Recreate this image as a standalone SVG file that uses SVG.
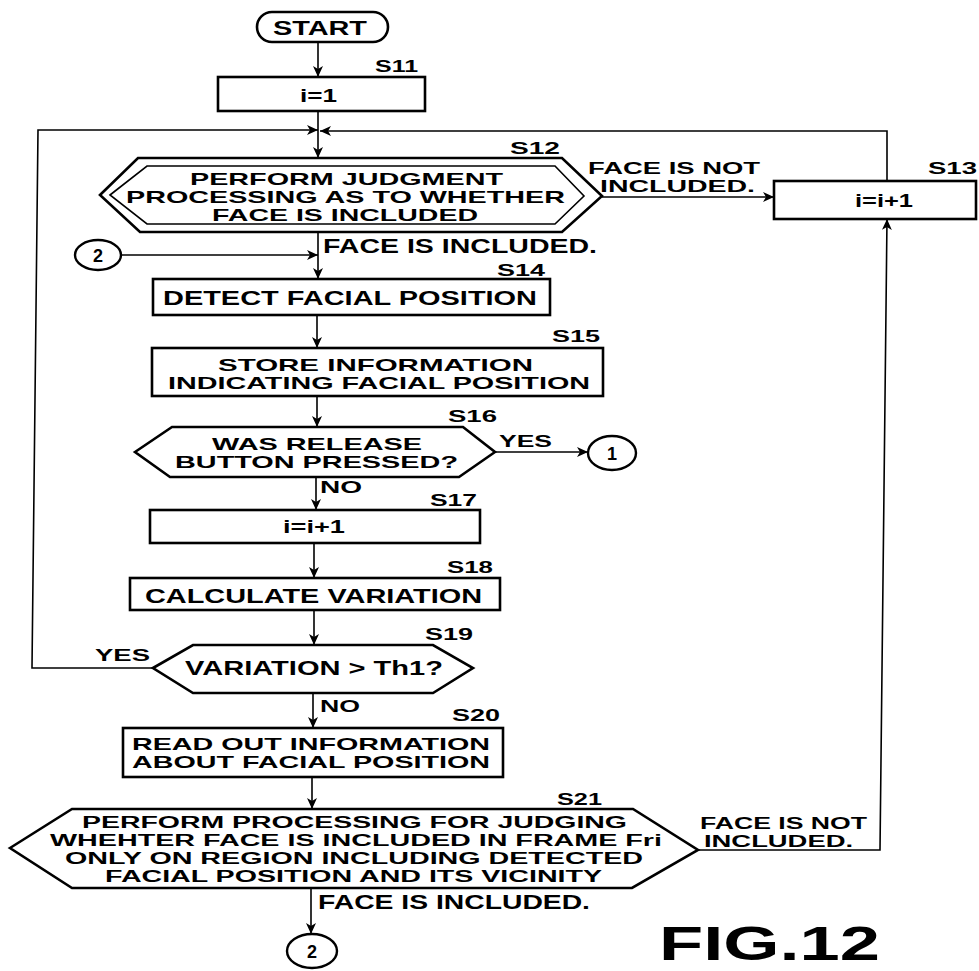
<svg xmlns="http://www.w3.org/2000/svg" width="979" height="971" viewBox="0 0 979 971">
<defs>
<marker id="ah" markerUnits="userSpaceOnUse" markerWidth="12" markerHeight="10" refX="11" refY="5" orient="auto">
<path d="M0,0 L11,5 L0,10 L3,5 Z" fill="#000"/>
</marker>
<style>
text{font-family:"Liberation Sans",Arial,sans-serif;font-weight:bold;fill:#000}
.t{font-size:20px}
.m{font-size:17px}
.s{font-size:17px}
.n{font-size:18px}
.r{font-size:16px}
.box{fill:#fff;stroke:#000;stroke-width:2.6}
.thin{fill:none;stroke:#000;stroke-width:1.6}
.c{fill:#fff;stroke:#000;stroke-width:2.4}
.ln{fill:none;stroke:#000;stroke-width:1.6}
</style>
</defs>
<rect width="979" height="971" fill="#fff"/>

<g id="connectors">
<line class="ln" x1="318" y1="42" x2="318" y2="77" marker-end="url(#ah)"/>
<line class="ln" x1="318" y1="111" x2="318" y2="158" marker-end="url(#ah)"/>
<polyline class="ln" points="153,668 32,668 38,130 318,130" marker-end="url(#ah)"/>
<polyline class="ln" points="887,181 887,131 320,131" marker-end="url(#ah)"/>
<line class="ln" x1="602" y1="197" x2="774" y2="197" marker-end="url(#ah)"/>
<line class="ln" x1="318" y1="232" x2="318" y2="279" marker-end="url(#ah)"/>
<line class="ln" x1="121" y1="255" x2="318" y2="255" marker-end="url(#ah)"/>
<line class="ln" x1="317" y1="315" x2="317" y2="348" marker-end="url(#ah)"/>
<line class="ln" x1="317" y1="396" x2="317" y2="427" marker-end="url(#ah)"/>
<line class="ln" x1="495" y1="452" x2="588" y2="452" marker-end="url(#ah)"/>
<line class="ln" x1="316" y1="477" x2="316" y2="510" marker-end="url(#ah)"/>
<line class="ln" x1="314" y1="543" x2="314" y2="578" marker-end="url(#ah)"/>
<line class="ln" x1="314" y1="610" x2="314" y2="645" marker-end="url(#ah)"/>
<line class="ln" x1="313" y1="693" x2="313" y2="728" marker-end="url(#ah)"/>
<line class="ln" x1="312" y1="777" x2="312" y2="809" marker-end="url(#ah)"/>
<line class="ln" x1="311" y1="888" x2="311" y2="934" marker-end="url(#ah)"/>
<polyline class="ln" points="698,850 880,850 887,219" marker-end="url(#ah)"/>
</g>

<g id="start">
<rect class="box" x="257" y="12" width="131" height="30" rx="15"/>
<text class="t" x="320" y="35" text-anchor="middle" textLength="94" lengthAdjust="spacingAndGlyphs">START</text>
</g>

<g id="S11">
<rect class="box" x="218" y="77" width="207" height="34"/>
<text class="s" x="375" y="72" textLength="43" lengthAdjust="spacingAndGlyphs">S11</text>
<text class="n" x="300" y="102" textLength="37" lengthAdjust="spacingAndGlyphs">i=1</text>
</g>

<g id="S12">
<polygon class="box" points="100,195 138,158 562,158 602,196 562,232 140,232"/>
<polygon class="thin" points="110,195 147,166 555,166 584,196 555,224 147,224"/>
<text class="s" x="510" y="154" textLength="50" lengthAdjust="spacingAndGlyphs">S12</text>
<text class="m" x="190" y="185" textLength="313" lengthAdjust="spacingAndGlyphs">PERFORM JUDGMENT</text>
<text class="m" x="126" y="203" textLength="439" lengthAdjust="spacingAndGlyphs">PROCESSING AS TO WHETHER</text>
<text class="m" x="212" y="221" textLength="266" lengthAdjust="spacingAndGlyphs">FACE IS INCLUDED</text>
<text class="r" x="588" y="174" textLength="172" lengthAdjust="spacingAndGlyphs">FACE IS NOT</text>
<text class="r" x="600" y="192" textLength="155" lengthAdjust="spacingAndGlyphs">INCLUDED.</text>
<text class="t" x="323" y="253" textLength="274" lengthAdjust="spacingAndGlyphs">FACE IS INCLUDED.</text>
</g>

<g id="S13">
<rect class="box" x="774" y="181" width="202" height="38"/>
<text class="s" x="928" y="174" textLength="49" lengthAdjust="spacingAndGlyphs">S13</text>
<text class="n" x="855" y="207" textLength="58" lengthAdjust="spacingAndGlyphs">i=i+1</text>
</g>

<g id="conn2top">
<ellipse class="c" cx="98" cy="255" rx="23" ry="15"/>
<text class="n" x="98" y="262" text-anchor="middle">2</text>
</g>

<g id="S14">
<rect class="box" x="153" y="279" width="397" height="36"/>
<text class="s" x="497" y="276" textLength="48" lengthAdjust="spacingAndGlyphs">S14</text>
<text class="t" x="163" y="305" textLength="374" lengthAdjust="spacingAndGlyphs">DETECT FACIAL POSITION</text>
</g>

<g id="S15">
<rect class="box" x="152" y="348" width="451" height="48"/>
<text class="s" x="552" y="342" textLength="48" lengthAdjust="spacingAndGlyphs">S15</text>
<text class="m" x="218" y="371" textLength="315" lengthAdjust="spacingAndGlyphs">STORE INFORMATION</text>
<text class="m" x="168" y="389" textLength="422" lengthAdjust="spacingAndGlyphs">INDICATING FACIAL POSITION</text>
</g>

<g id="S16">
<polygon class="box" points="135,452 172,427 463,427 495,452 459,477 170,477"/>
<text class="s" x="448" y="422" textLength="49" lengthAdjust="spacingAndGlyphs">S16</text>
<text class="m" x="212" y="450" textLength="210" lengthAdjust="spacingAndGlyphs">WAS RELEASE</text>
<text class="m" x="175" y="468" textLength="283" lengthAdjust="spacingAndGlyphs">BUTTON PRESSED?</text>
<text class="m" x="499" y="447" textLength="53" lengthAdjust="spacingAndGlyphs">YES</text>
<text class="m" x="320" y="493" textLength="42" lengthAdjust="spacingAndGlyphs">NO</text>
</g>

<g id="conn1">
<ellipse class="c" cx="612" cy="453" rx="24" ry="17"/>
<text class="n" x="612" y="460" text-anchor="middle">1</text>
</g>

<g id="S17">
<rect class="box" x="150" y="510" width="330" height="33"/>
<text class="s" x="430" y="506" textLength="47" lengthAdjust="spacingAndGlyphs">S17</text>
<text class="n" x="283" y="533" textLength="62" lengthAdjust="spacingAndGlyphs">i=i+1</text>
</g>

<g id="S18">
<rect class="box" x="130" y="578" width="370" height="32"/>
<text class="s" x="447" y="573" textLength="46" lengthAdjust="spacingAndGlyphs">S18</text>
<text class="t" x="145" y="603" textLength="337" lengthAdjust="spacingAndGlyphs">CALCULATE VARIATION</text>
</g>

<g id="S19">
<polygon class="box" points="153,668 193,645 433,645 473,668 433,693 193,693"/>
<text class="s" x="425" y="640" textLength="48" lengthAdjust="spacingAndGlyphs">S19</text>
<text class="t" x="185" y="675" textLength="258" lengthAdjust="spacingAndGlyphs">VARIATION &gt; Th1?</text>
<text class="m" x="95" y="661" textLength="55" lengthAdjust="spacingAndGlyphs">YES</text>
<text class="m" x="320" y="712" textLength="40" lengthAdjust="spacingAndGlyphs">NO</text>
</g>

<g id="S20">
<rect class="box" x="123" y="728" width="380" height="49"/>
<text class="s" x="452" y="721" textLength="48" lengthAdjust="spacingAndGlyphs">S20</text>
<text class="m" x="132" y="750" textLength="358" lengthAdjust="spacingAndGlyphs">READ OUT INFORMATION</text>
<text class="m" x="132" y="768" textLength="358" lengthAdjust="spacingAndGlyphs">ABOUT FACIAL POSITION</text>
</g>

<g id="S21">
<polygon class="box" points="10,848 72,809 633,809 698,850 632,888 72,888"/>
<text class="s" x="557" y="805" textLength="45" lengthAdjust="spacingAndGlyphs">S21</text>
<text class="r" x="82" y="828" textLength="545" lengthAdjust="spacingAndGlyphs">PERFORM PROCESSING FOR JUDGING</text>
<text class="r" x="50" y="846" textLength="612" lengthAdjust="spacingAndGlyphs">WHEHTER FACE IS INCLUDED IN FRAME Fri</text>
<text class="r" x="65" y="864" textLength="578" lengthAdjust="spacingAndGlyphs">ONLY ON REGION INCLUDING DETECTED</text>
<text class="r" x="105" y="882" textLength="497" lengthAdjust="spacingAndGlyphs">FACIAL POSITION AND ITS VICINITY</text>
<text class="r" x="700" y="829" textLength="167" lengthAdjust="spacingAndGlyphs">FACE IS NOT</text>
<text class="r" x="704" y="847" textLength="149" lengthAdjust="spacingAndGlyphs">INCLUDED.</text>
<text class="t" x="318" y="909" textLength="272" lengthAdjust="spacingAndGlyphs">FACE IS INCLUDED.</text>
</g>

<g id="conn2bottom">
<ellipse class="c" cx="312" cy="951" rx="25" ry="17"/>
<text class="n" x="312" y="958" text-anchor="middle">2</text>
</g>

<g id="caption">
<text x="659" y="960" style="font-size:48px" textLength="221" lengthAdjust="spacingAndGlyphs">FIG.12</text>
</g>
</svg>
